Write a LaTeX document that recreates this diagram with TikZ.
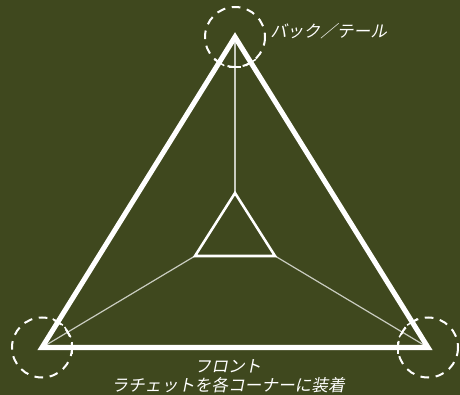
\documentclass[tikz,border=0pt]{standalone}
\usepackage{fontspec}
\newfontfamily\jpfont[FakeSlant=0.2]{Noto Sans CJK JP}
\definecolor{OliveBG}{RGB}{63,72,30}
\usetikzlibrary{calc}

\begin{document}
\begin{tikzpicture}[x=0.75pt,y=-0.75pt,
  outer/.style={draw=white,line width=3.8pt,line join=miter},
  inner/.style={draw=white,line width=1.9pt,line join=miter},
  spoke/.style={draw=white!72!OliveBG,line width=0.9pt},
  corner/.style={draw=white,line width=1.5pt,dash pattern=on 6.5pt off 5pt},
  tick/.style={draw=white,line width=1.1pt},
  lbl/.style={text=white,font=\jpfont\fontsize{12.5pt}{14.5pt}\selectfont,inner sep=0pt,align=center}]
\fill[OliveBG] (0,0) rectangle (460,395);
\useasboundingbox (0,0) rectangle (460,395);
% corners of the frame
\coordinate (back) at (235,37);
\coordinate (frontL) at (42,347.5);
\coordinate (frontR) at (428,347.5);
\coordinate (inTop) at (235,193);
\coordinate (inL) at (195,256);
\coordinate (inR) at (275,256);
% spokes
\draw[spoke] (back) -- (inTop);
\draw[spoke] (frontL) -- (inL);
\draw[spoke] (frontR) -- (inR);
% triangles
\draw[outer] (back) -- (frontL) -- (frontR) -- cycle;
\draw[inner] (inTop) -- (inL) -- (inR) -- cycle;
% ratchets at the corners
\foreach \c in {back,frontL,frontR}{\draw[corner] (\c) circle[radius=30];}
\foreach \a/\b in {back/frontL,back/frontR,back/inTop,frontL/back,frontL/frontR,frontL/inL,frontR/back,frontR/frontL,frontR/inR}{
  \draw[tick] ($(\a)!22.5pt!(\b)!4.5pt!90:(\b)$) -- ($(\a)!22.5pt!(\b)!4.5pt!-90:(\b)$);}
% labels
\node[lbl,anchor=west] (lblBack) at (270,31) {バック／テール};
\node[lbl] (lblFront) at (228,376) {フロント\\ラチェットを各コーナーに装着};
\end{tikzpicture}
\end{document}
